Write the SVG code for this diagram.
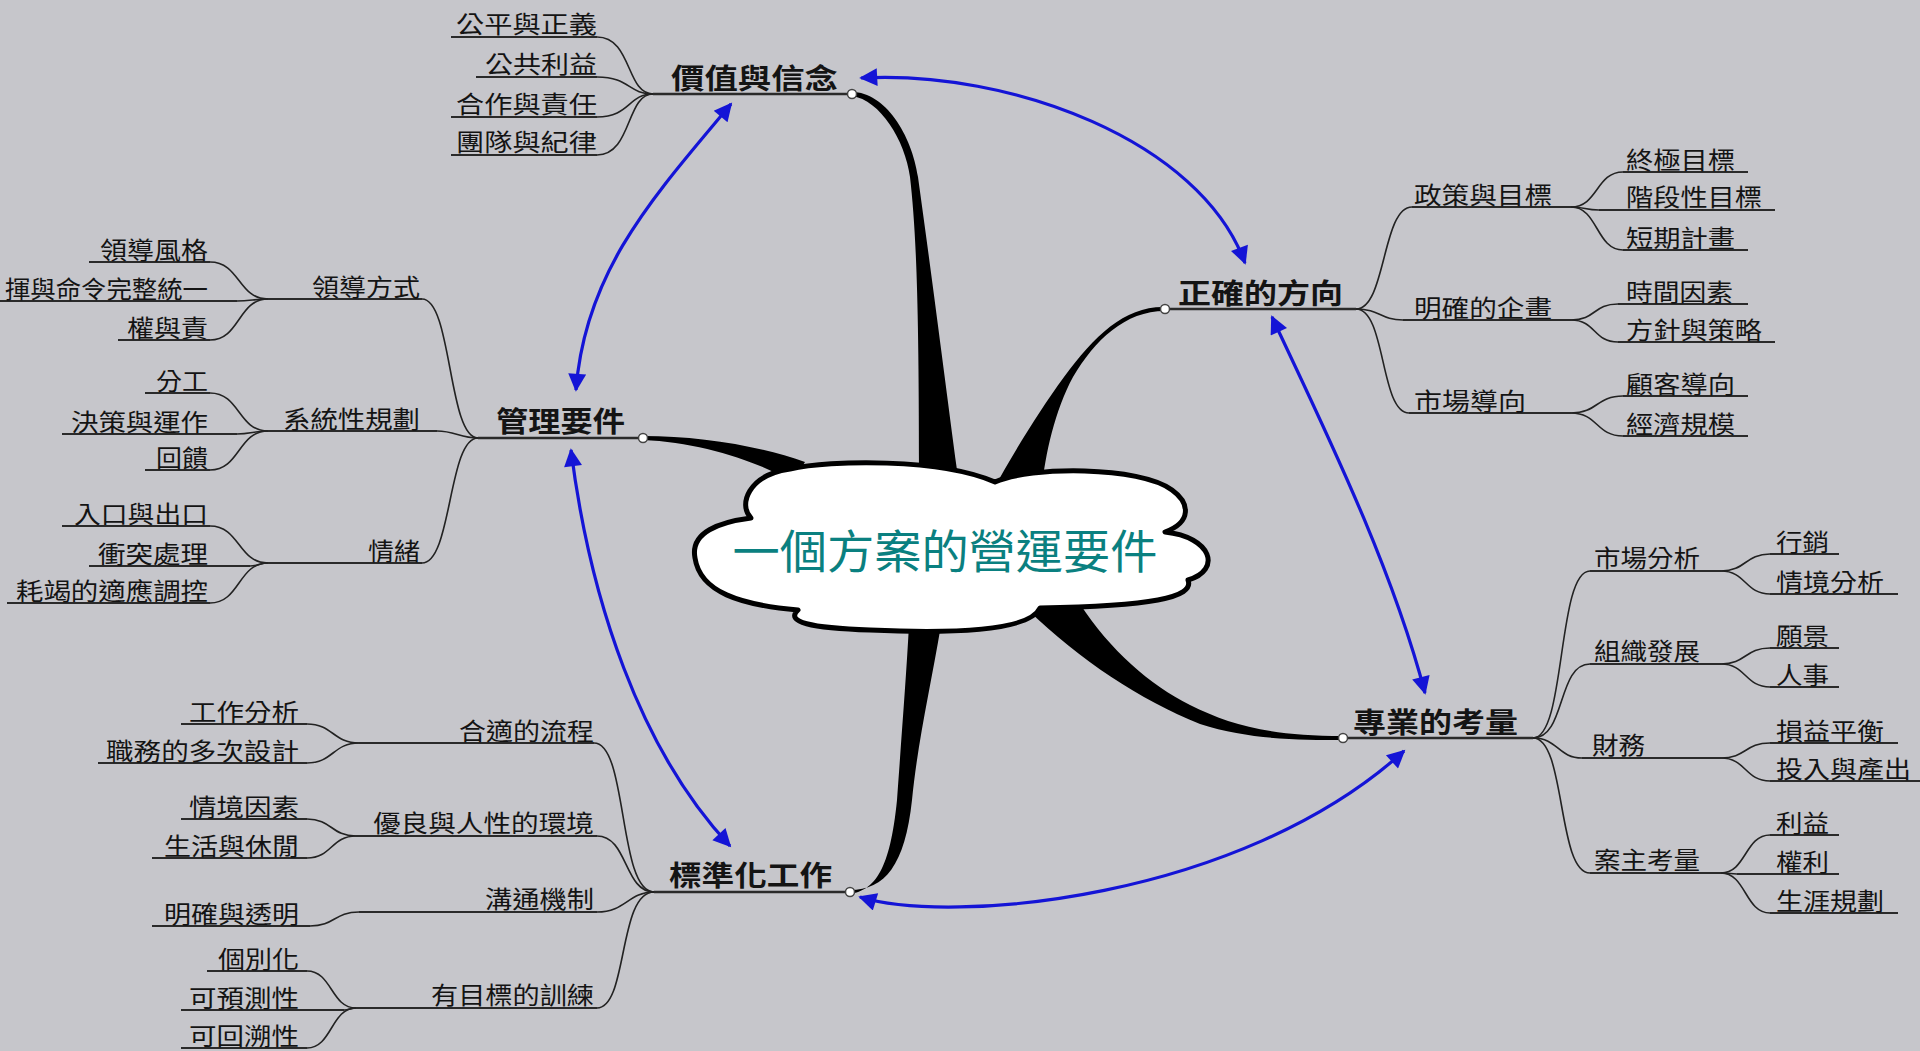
<svg xmlns="http://www.w3.org/2000/svg" width="1920" height="1051" viewBox="0 0 1920 1051">
<defs>
<style>
text{font-family:"Noto Sans CJK TC","Noto Sans CJK SC",sans-serif;fill:#141414;font-size:24px}
.m{font-size:28px;font-weight:700}
.e{text-anchor:end}
.ul{stroke:#2a2a2a;stroke-width:2;fill:none}
.mul{stroke:#2a2a2a;stroke-width:2.5;fill:none}
.c{stroke:#222;stroke-width:1.6;fill:none}
.blue{stroke:#1414d6;stroke-width:3.2;fill:none;marker-start:url(#ah);marker-end:url(#ah)}
.spk{fill:#000}
.dot{fill:#fff;stroke:#444;stroke-width:1.5}
</style>
<marker id="ah" viewBox="0 0 10 10" refX="9" refY="5" markerUnits="userSpaceOnUse" markerWidth="24" markerHeight="18" orient="auto-start-reverse"><path d="M0,0 L10,5 L0,10 Z" fill="#1414d6"/></marker>
</defs>
<rect width="1920" height="1051" fill="#c6c6cb"/>

<g id="connectors">
<path class="spk" d="M852,96 C880,100 905,140 910,177 C916,230 919,300 919,470 L957,470 C945,380 935,300 918,177 C912,135 885,92 852,92 Z"/>
<path class="spk" d="M1165,307 C1125,306 1095,335 1064,377 C1040,410 1015,450 993,490 L1042,488 C1045,455 1055,410 1073,377 C1095,340 1125,311 1165,311 Z"/>
<path class="spk" d="M643,436 C700,436 760,446 805,462 L792,482 C760,462 700,442 643,440 Z"/>
<path class="spk" d="M850,894 C875,890 890,870 897,800 C902,730 906,680 909,625 L941,625 C930,690 918,740 912,800 C905,865 885,890 850,890 Z"/>
<path class="spk" d="M1343,736 C1270,736 1230,725 1190,705 C1150,685 1110,650 1080,604 L1028,610 C1080,660 1140,700 1200,724 C1250,740 1300,740 1343,740 Z"/>
<path class="blue" d="M861,78 C1010,70 1200,140 1245,263"/>
<path class="blue" d="M731,104 C655,195 585,270 576,390"/>
<path class="blue" d="M571,450 C590,600 640,750 730,846"/>
<path class="blue" d="M860,897 C950,925 1240,900 1404,751"/>
<path class="blue" d="M1272,317 C1320,420 1390,560 1425,693"/>
<path class="c" d="M597,37 C632,37 626,94 653,94"/>
<path class="c" d="M597,77 C630,77 628,94 653,94"/>
<path class="c" d="M597,117 C630,117 628,94 653,94"/>
<path class="c" d="M597,155 C632,155 626,94 653,94"/>
<path class="c" d="M478,438 C448,438 452,299 422,299"/>
<path class="c" d="M478,438 C460,438 455,431 437,431"/>
<path class="c" d="M478,438 C448,438 452,563 422,563"/>
<path class="c" d="M268,299 C238,299 240,262 210,262"/>
<path class="c" d="M268,299 C255,299 250,301 237,301"/>
<path class="c" d="M268,299 C238,299 240,340 210,340"/>
<path class="c" d="M268,431 C238,431 240,393 210,393"/>
<path class="c" d="M268,431 C255,431 250,434 237,434"/>
<path class="c" d="M268,431 C238,431 240,470 210,470"/>
<path class="c" d="M268,563 C238,563 240,526 210,526"/>
<path class="c" d="M268,563 C260,563 258,566 250,566"/>
<path class="c" d="M268,563 C238,563 240,603 210,603"/>
<path class="c" d="M654,892 C618,892 628,743 594,743"/>
<path class="c" d="M654,892 C624,892 628,836 597,836"/>
<path class="c" d="M654,892 C628,892 626,912 597,912"/>
<path class="c" d="M654,892 C618,892 628,1008 597,1008"/>
<path class="c" d="M359,743 C333,743 333,724 307,724"/>
<path class="c" d="M359,743 C333,743 333,763 307,763"/>
<path class="c" d="M356,836 C331,836 332,819 307,819"/>
<path class="c" d="M356,836 C331,836 332,858 307,858"/>
<path class="c" d="M359,912 C334,912 335,926 310,926"/>
<path class="c" d="M356,1008 C331,1008 332,971 307,971"/>
<path class="c" d="M356,1008 C350,1008 350,1010 344,1010"/>
<path class="c" d="M356,1008 C331,1008 332,1048 307,1048"/>
<path class="c" d="M1356,309 C1386,309 1382,207 1412,207"/>
<path class="c" d="M1356,309 C1380,309 1380,320 1403,320"/>
<path class="c" d="M1356,309 C1386,309 1380,413 1409,413"/>
<path class="c" d="M1571,207 C1598,207 1596,172 1623,172"/>
<path class="c" d="M1571,207 C1585,207 1585,210 1599,210"/>
<path class="c" d="M1571,207 C1598,207 1596,250 1623,250"/>
<path class="c" d="M1571,320 C1596,320 1593,304 1618,304"/>
<path class="c" d="M1571,320 C1596,320 1593,342 1618,342"/>
<path class="c" d="M1571,413 C1598,413 1596,396 1623,396"/>
<path class="c" d="M1571,413 C1598,413 1596,436 1623,436"/>
<path class="c" d="M1533,738 C1566,738 1557,571 1590,571"/>
<path class="c" d="M1533,738 C1566,738 1557,664 1590,664"/>
<path class="c" d="M1533,738 C1558,738 1558,758 1582,758"/>
<path class="c" d="M1533,738 C1566,738 1557,873 1590,873"/>
<path class="c" d="M1721,571 C1746,571 1745,554 1770,554"/>
<path class="c" d="M1721,571 C1746,571 1745,594 1770,594"/>
<path class="c" d="M1721,664 C1746,664 1745,648 1770,648"/>
<path class="c" d="M1721,664 C1746,664 1745,687 1770,687"/>
<path class="c" d="M1721,758 C1746,758 1745,743 1770,743"/>
<path class="c" d="M1721,758 C1746,758 1745,781 1770,781"/>
<path class="c" d="M1721,873 C1746,873 1745,835 1770,835"/>
<path class="c" d="M1721,873 C1730,873 1730,874 1737,874"/>
<path class="c" d="M1721,873 C1746,873 1745,913 1770,913"/>
</g>

<g id="center">
<path d="M751,518 C738,505 748,475 790,469 C830,460 940,458 995,482 C1030,466 1140,466 1172,490 C1190,503 1192,522 1165,532 C1212,537 1222,570 1188,580 C1195,598 1150,606 1040,608 C1030,630 960,634 870,630 C810,628 785,622 798,610 C740,605 700,592 695,558 C690,532 720,522 751,518 Z" fill="#fff" stroke="#000" stroke-width="5" stroke-linejoin="round"/>
<text x="945" y="568" text-anchor="middle" textLength="425" lengthAdjust="spacingAndGlyphs" style="font-size:46px;fill:#0a8080">一個方案的營運要件</text>
</g>

<g id="n-values"><line class="mul" x1="653" y1="94" x2="852" y2="94"/><circle class="dot" cx="852" cy="94" r="4.5"/><text class="m" x="671" y="89" textLength="167" lengthAdjust="spacingAndGlyphs">價值與信念</text></g>
<g id="n-direction"><line class="mul" x1="1165" y1="309" x2="1356" y2="309"/><circle class="dot" cx="1165" cy="309" r="4.5"/><text class="m" x="1178" y="304" textLength="165" lengthAdjust="spacingAndGlyphs">正確的方向</text></g>
<g id="n-management"><line class="mul" x1="478" y1="438" x2="643" y2="438"/><circle class="dot" cx="643" cy="438" r="4.5"/><text class="m" x="496" y="432" textLength="129" lengthAdjust="spacingAndGlyphs">管理要件</text></g>
<g id="n-standard"><line class="mul" x1="654" y1="892" x2="850" y2="892"/><circle class="dot" cx="850" cy="892" r="4.5"/><text class="m" x="669" y="886" textLength="163" lengthAdjust="spacingAndGlyphs">標準化工作</text></g>
<g id="n-professional"><line class="mul" x1="1343" y1="738" x2="1533" y2="738"/><circle class="dot" cx="1343" cy="738" r="4.5"/><text class="m" x="1353" y="733" textLength="165" lengthAdjust="spacingAndGlyphs">專業的考量</text></g>

<g id="n-v1"><line class="ul" x1="451" y1="37" x2="597" y2="37"/><text class="e" x="597" y="33" textLength="141" lengthAdjust="spacingAndGlyphs">公平與正義</text></g>
<g id="n-v2"><line class="ul" x1="476" y1="77" x2="597" y2="77"/><text class="e" x="597" y="73" textLength="112" lengthAdjust="spacingAndGlyphs">公共利益</text></g>
<g id="n-v3"><line class="ul" x1="451" y1="117" x2="597" y2="117"/><text class="e" x="597" y="113" textLength="141" lengthAdjust="spacingAndGlyphs">合作與責任</text></g>
<g id="n-v4"><line class="ul" x1="451" y1="155" x2="597" y2="155"/><text class="e" x="597" y="151" textLength="141" lengthAdjust="spacingAndGlyphs">團隊與紀律</text></g>

<g id="n-m1"><line class="ul" x1="268" y1="299" x2="422" y2="299"/><text class="e" x="420" y="296" textLength="108" lengthAdjust="spacingAndGlyphs">領導方式</text></g>
<g id="n-m2"><line class="ul" x1="268" y1="431" x2="437" y2="431"/><text class="e" x="420" y="428" textLength="137" lengthAdjust="spacingAndGlyphs">系統性規劃</text></g>
<g id="n-m3"><line class="ul" x1="268" y1="563" x2="422" y2="563"/><text class="e" x="420" y="560" textLength="52" lengthAdjust="spacingAndGlyphs">情緒</text></g>
<g id="n-m1a"><line class="ul" x1="89" y1="262" x2="210" y2="262"/><text class="e" x="208" y="259" textLength="108" lengthAdjust="spacingAndGlyphs">領導風格</text></g>
<g id="n-m1b"><line class="ul" x1="0" y1="301" x2="237" y2="301"/><text class="e" x="208" y="298" textLength="203" lengthAdjust="spacingAndGlyphs">揮與命令完整統一</text></g>
<g id="n-m1c"><line class="ul" x1="118" y1="340" x2="210" y2="340"/><text class="e" x="208" y="337" textLength="81" lengthAdjust="spacingAndGlyphs">權與責</text></g>
<g id="n-m2a"><line class="ul" x1="145" y1="393" x2="210" y2="393"/><text class="e" x="208" y="390" textLength="52" lengthAdjust="spacingAndGlyphs">分工</text></g>
<g id="n-m2b"><line class="ul" x1="62" y1="434" x2="237" y2="434"/><text class="e" x="208" y="431" textLength="137" lengthAdjust="spacingAndGlyphs">決策與運作</text></g>
<g id="n-m2c"><line class="ul" x1="145" y1="470" x2="210" y2="470"/><text class="e" x="208" y="467" textLength="52" lengthAdjust="spacingAndGlyphs">回饋</text></g>
<g id="n-m3a"><line class="ul" x1="62" y1="526" x2="210" y2="526"/><text class="e" x="208" y="523" textLength="134" lengthAdjust="spacingAndGlyphs">入口與出口</text></g>
<g id="n-m3b"><line class="ul" x1="89" y1="566" x2="250" y2="566"/><text class="e" x="208" y="563" textLength="110" lengthAdjust="spacingAndGlyphs">衝突處理</text></g>
<g id="n-m3c"><line class="ul" x1="7" y1="603" x2="210" y2="603"/><text class="e" x="208" y="600" textLength="192" lengthAdjust="spacingAndGlyphs">耗竭的適應調控</text></g>

<g id="n-s1"><line class="ul" x1="359" y1="743" x2="594" y2="743"/><text class="e" x="594" y="740" textLength="135" lengthAdjust="spacingAndGlyphs">合適的流程</text></g>
<g id="n-s2"><line class="ul" x1="356" y1="836" x2="597" y2="836"/><text class="e" x="594" y="832" textLength="221" lengthAdjust="spacingAndGlyphs">優良與人性的環境</text></g>
<g id="n-s3"><line class="ul" x1="359" y1="912" x2="597" y2="912"/><text class="e" x="594" y="908" textLength="109" lengthAdjust="spacingAndGlyphs">溝通機制</text></g>
<g id="n-s4"><line class="ul" x1="356" y1="1008" x2="597" y2="1008"/><text class="e" x="594" y="1004" textLength="163" lengthAdjust="spacingAndGlyphs">有目標的訓練</text></g>
<g id="n-s1a"><line class="ul" x1="181" y1="724" x2="307" y2="724"/><text class="e" x="299" y="721" textLength="110" lengthAdjust="spacingAndGlyphs">工作分析</text></g>
<g id="n-s1b"><line class="ul" x1="98" y1="763" x2="307" y2="763"/><text class="e" x="299" y="760" textLength="193" lengthAdjust="spacingAndGlyphs">職務的多次設計</text></g>
<g id="n-s2a"><line class="ul" x1="181" y1="819" x2="307" y2="819"/><text class="e" x="299" y="816" textLength="110" lengthAdjust="spacingAndGlyphs">情境因素</text></g>
<g id="n-s2b"><line class="ul" x1="152" y1="858" x2="307" y2="858"/><text class="e" x="299" y="855" textLength="135" lengthAdjust="spacingAndGlyphs">生活與休閒</text></g>
<g id="n-s3a"><line class="ul" x1="152" y1="926" x2="310" y2="926"/><text class="e" x="299" y="923" textLength="135" lengthAdjust="spacingAndGlyphs">明確與透明</text></g>
<g id="n-s4a"><line class="ul" x1="207" y1="971" x2="307" y2="971"/><text class="e" x="299" y="968" textLength="81" lengthAdjust="spacingAndGlyphs">個別化</text></g>
<g id="n-s4b"><line class="ul" x1="181" y1="1010" x2="344" y2="1010"/><text class="e" x="299" y="1007" textLength="110" lengthAdjust="spacingAndGlyphs">可預測性</text></g>
<g id="n-s4c"><line class="ul" x1="181" y1="1048" x2="307" y2="1048"/><text class="e" x="299" y="1045" textLength="110" lengthAdjust="spacingAndGlyphs">可回溯性</text></g>

<g id="n-d1"><line class="ul" x1="1412" y1="207" x2="1571" y2="207"/><text x="1414" y="204" textLength="138" lengthAdjust="spacingAndGlyphs">政策與目標</text></g>
<g id="n-d2"><line class="ul" x1="1403" y1="320" x2="1571" y2="320"/><text x="1414" y="317" textLength="138" lengthAdjust="spacingAndGlyphs">明確的企畫</text></g>
<g id="n-d3"><line class="ul" x1="1409" y1="413" x2="1571" y2="413"/><text x="1414" y="410" textLength="112" lengthAdjust="spacingAndGlyphs">市場導向</text></g>
<g id="n-d1a"><line class="ul" x1="1623" y1="172" x2="1748" y2="172"/><text x="1626" y="169" textLength="109" lengthAdjust="spacingAndGlyphs">終極目標</text></g>
<g id="n-d1b"><line class="ul" x1="1599" y1="210" x2="1775" y2="210"/><text x="1626" y="206" textLength="136" lengthAdjust="spacingAndGlyphs">階段性目標</text></g>
<g id="n-d1c"><line class="ul" x1="1623" y1="250" x2="1748" y2="250"/><text x="1626" y="247" textLength="109" lengthAdjust="spacingAndGlyphs">短期計畫</text></g>
<g id="n-d2a"><line class="ul" x1="1618" y1="304" x2="1748" y2="304"/><text x="1626" y="301" textLength="107" lengthAdjust="spacingAndGlyphs">時間因素</text></g>
<g id="n-d2b"><line class="ul" x1="1618" y1="342" x2="1775" y2="342"/><text x="1626" y="339" textLength="136" lengthAdjust="spacingAndGlyphs">方針與策略</text></g>
<g id="n-d3a"><line class="ul" x1="1623" y1="396" x2="1748" y2="396"/><text x="1626" y="393" textLength="109" lengthAdjust="spacingAndGlyphs">顧客導向</text></g>
<g id="n-d3b"><line class="ul" x1="1623" y1="436" x2="1748" y2="436"/><text x="1626" y="433" textLength="109" lengthAdjust="spacingAndGlyphs">經濟規模</text></g>

<g id="n-p1"><line class="ul" x1="1590" y1="571" x2="1721" y2="571"/><text x="1594" y="567" textLength="106" lengthAdjust="spacingAndGlyphs">市場分析</text></g>
<g id="n-p2"><line class="ul" x1="1590" y1="664" x2="1721" y2="664"/><text x="1594" y="660" textLength="106" lengthAdjust="spacingAndGlyphs">組織發展</text></g>
<g id="n-p3"><line class="ul" x1="1582" y1="758" x2="1721" y2="758"/><text x="1592" y="754" textLength="53" lengthAdjust="spacingAndGlyphs">財務</text></g>
<g id="n-p4"><line class="ul" x1="1590" y1="873" x2="1721" y2="873"/><text x="1594" y="869" textLength="106" lengthAdjust="spacingAndGlyphs">案主考量</text></g>
<g id="n-p1a"><line class="ul" x1="1770" y1="554" x2="1839" y2="554"/><text x="1776" y="551" textLength="53" lengthAdjust="spacingAndGlyphs">行銷</text></g>
<g id="n-p1b"><line class="ul" x1="1770" y1="594" x2="1898" y2="594"/><text x="1776" y="591" textLength="108" lengthAdjust="spacingAndGlyphs">情境分析</text></g>
<g id="n-p2a"><line class="ul" x1="1770" y1="648" x2="1839" y2="648"/><text x="1776" y="645" textLength="53" lengthAdjust="spacingAndGlyphs">願景</text></g>
<g id="n-p2b"><line class="ul" x1="1770" y1="687" x2="1839" y2="687"/><text x="1776" y="684" textLength="53" lengthAdjust="spacingAndGlyphs">人事</text></g>
<g id="n-p3a"><line class="ul" x1="1770" y1="743" x2="1898" y2="743"/><text x="1776" y="740" textLength="108" lengthAdjust="spacingAndGlyphs">損益平衡</text></g>
<g id="n-p3b"><line class="ul" x1="1770" y1="781" x2="1920" y2="781"/><text x="1776" y="778" textLength="135" lengthAdjust="spacingAndGlyphs">投入與產出</text></g>
<g id="n-p4a"><line class="ul" x1="1770" y1="835" x2="1839" y2="835"/><text x="1776" y="832" textLength="53" lengthAdjust="spacingAndGlyphs">利益</text></g>
<g id="n-p4b"><line class="ul" x1="1737" y1="874" x2="1839" y2="874"/><text x="1776" y="871" textLength="53" lengthAdjust="spacingAndGlyphs">權利</text></g>
<g id="n-p4c"><line class="ul" x1="1770" y1="913" x2="1898" y2="913"/><text x="1776" y="910" textLength="108" lengthAdjust="spacingAndGlyphs">生涯規劃</text></g>
</svg>
